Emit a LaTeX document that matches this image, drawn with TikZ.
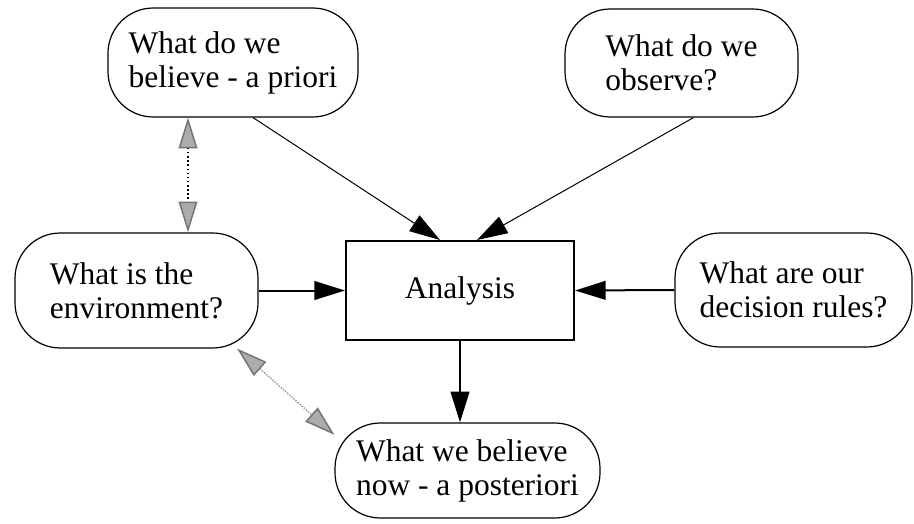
\documentclass[tikz,border=0pt]{standalone}
\usepackage{fontspec}
\setmainfont{Liberation Serif}
\usetikzlibrary{arrows.meta}

\newcommand{\qfont}{\fontsize{23.6}{25.5}\selectfont}

\tikzset{every picture/.style={line width=0.75pt}}
\tikzset{
  question/.style={draw, line width=0.9pt, rounded corners=34pt, align=left, inner sep=0pt, font=\qfont},
  analysisbox/.style={draw, line width=1.5pt, inner sep=0pt, font=\qfont},
  thinarrow/.style={line width=0.75pt, -{Triangle[length=23pt,width=14pt]}},
  thickarrow/.style={line width=1.5pt, -{Triangle[length=23pt,width=14pt]}},
  grayhead/.style={Triangle[length=23pt,width=14pt,color=gray!90!black,fill=gray!65]},
  grayarrow/.style={line width=1.1pt, {Triangle[length=23pt,width=14pt,color=gray!90!black,fill=gray!65]}-{Triangle[length=23pt,width=14pt,color=gray!90!black,fill=gray!65]}}
}

\begin{document}
\begin{tikzpicture}[x=0.75pt,y=0.75pt,yscale=-1,xscale=1]
\useasboundingbox (0,0) rectangle (914,524);

% Question nodes
\node [question, minimum width=187.5pt, minimum height=81.75pt] (belief) at (233,62.5) {What do we\\believe - a priori};
\node [question, minimum width=174.75pt, minimum height=81pt] (observe) at (681.5,63) {What do we\\observe?};
\node [question, minimum width=182.25pt, minimum height=86.25pt] (environ) at (136.5,290.5) {What is the\\environment?};
\node [question, minimum width=177.75pt, minimum height=85.5pt] (rules) at (793.5,290) {What are our\\decision rules?};
\node [question, minimum width=198.75pt, minimum height=71.25pt] (posterior) at (467.5,470.5) {What we believe\\now - a posteriori};

% Analysis box
\node [analysisbox, minimum width=171pt, minimum height=74.25pt] (analysis) at (460,290.5) {Analysis};

% Arrows into the analysis
\draw [thinarrow] ([xshift=15pt]belief.south) -- ([xshift=-15pt]analysis.north);
\draw [thinarrow] ([xshift=9pt]observe.south) -- ([xshift=12.75pt]analysis.north);
\draw [thickarrow] (environ.east) -- (analysis.west);
\draw [thickarrow] (rules.west) -- (analysis.east);
\draw [thickarrow] (analysis.south) -- (analysis.south |- posterior.north);

% Gray links
\draw [grayarrow, dotted] ([xshift=-33.75pt]belief.south) -- ([xshift=-33.75pt]belief.south |- environ.north);
\draw [grayarrow, densely dotted, draw=gray!80] (environ.-30) -- (posterior.165);

\end{tikzpicture}
\end{document}
